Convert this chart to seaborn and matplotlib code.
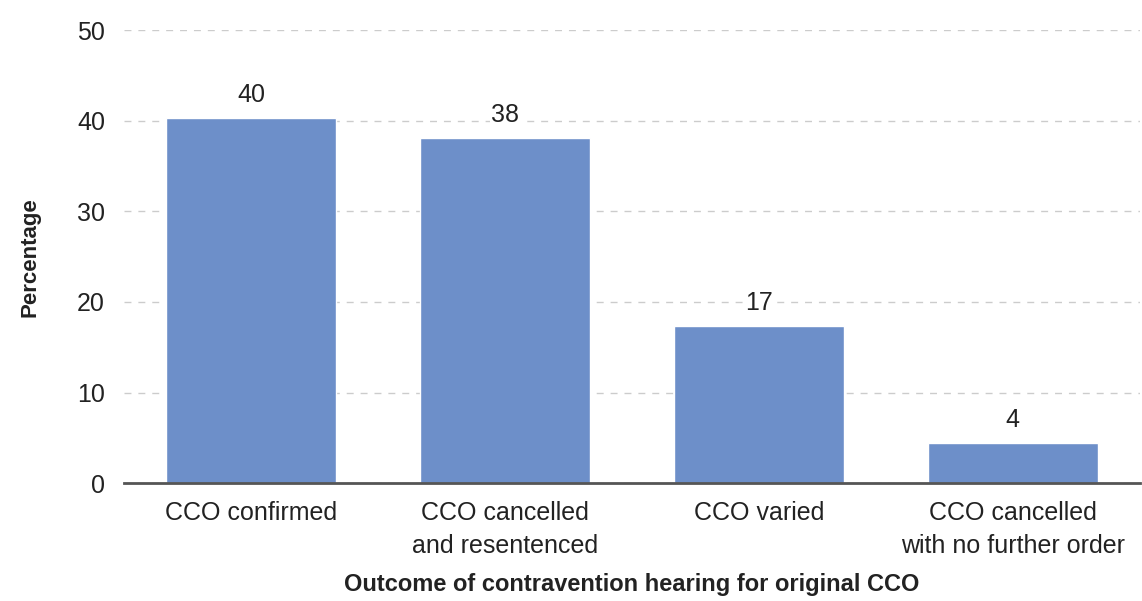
import pandas as pd
import matplotlib
matplotlib.use("Agg")
import matplotlib.pyplot as plt
import seaborn as sns

# Data
categories = ["CCO confirmed", "CCO cancelled\nand resentenced", "CCO varied",
              "CCO cancelled\nwith no further order"]
values = [40.3, 38.1, 17.4, 4.4]
bar_labels = ["40", "38", "17", "4"]
y_ticks = [0, 10, 20, 30, 40, 50]

BAR_COLOR = "#6d8fc9"
TEXT_COLOR = "#222222"

sns.set_style("white")
plt.rcParams['font.family'] = ['Liberation Sans', 'DejaVu Sans']

df = pd.DataFrame({"outcome": categories, "pct": values})

fig = plt.figure(figsize=(11.42, 6.01), dpi=100)
ax = fig.add_axes([0.109, 0.196, 0.889, 0.754])

sns.barplot(data=df, x="outcome", y="pct", color=BAR_COLOR, width=0.67,
            saturation=1, ax=ax, zorder=2)

ax.set_ylim(0, 50)
ax.set_xlim(-0.5, 3.5)
ax.set_yticks(y_ticks)
ax.yaxis.grid(True, linestyle=(0, (5, 5)), color="#cccccc", linewidth=1)
ax.set_axisbelow(True)

for side in ["top", "right", "left"]:
    ax.spines[side].set_visible(False)
ax.spines["bottom"].set_color("#555555")
ax.spines["bottom"].set_linewidth(2)
ax.spines["bottom"].set_zorder(3)

ax.tick_params(axis="both", length=0, labelsize=18, colors=TEXT_COLOR)
ax.tick_params(axis="y", pad=14)
ax.tick_params(axis="x", pad=13)
for t in ax.get_xticklabels():
    t.set_linespacing(1.45)

# value labels above bars
for i, (v, lab) in enumerate(zip(values, bar_labels)):
    ax.text(i, v + 1.2, lab, ha="center", va="bottom", fontsize=18, color=TEXT_COLOR,
            bbox=dict(facecolor="white", edgecolor="none", pad=1), zorder=4)

ax.set_xlabel("Outcome of contravention hearing for original CCO", fontsize=17,
              fontweight="bold", color=TEXT_COLOR, labelpad=11)
ax.set_ylabel("Percentage", fontsize=16, fontweight="bold", color=TEXT_COLOR, labelpad=26)

fig.savefig("out.png", dpi=100)
